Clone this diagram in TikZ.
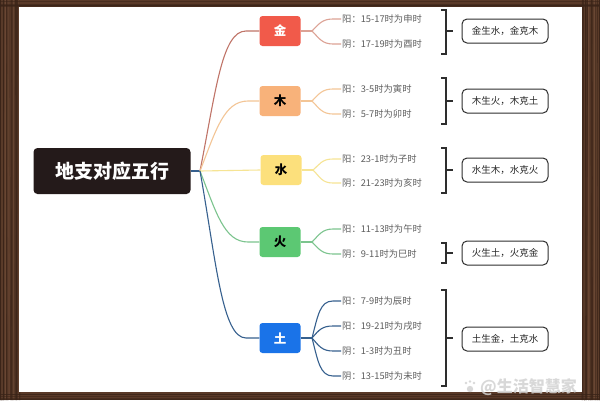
\documentclass[tikz,border=0pt]{standalone}
\usepackage{fontspec}
\setmainfont{Noto Sans CJK SC}
\definecolor{wood}{HTML}{5A3A29}
\definecolor{wooddark}{HTML}{3A2418}
\definecolor{woodlight}{HTML}{75503A}
\definecolor{titlebg}{HTML}{241A1A}
\definecolor{cjin}{HTML}{F15A4A}
\definecolor{cmu}{HTML}{F8B27A}
\definecolor{cshui}{HTML}{FCE07C}
\definecolor{chuo}{HTML}{5CC873}
\definecolor{ctu}{HTML}{1A73E8}
\definecolor{ljin}{HTML}{C07468}
\definecolor{lmu}{HTML}{F3C596}
\definecolor{lshui}{HTML}{F6E494}
\definecolor{lhuo}{HTML}{7CC48E}
\definecolor{ltu}{HTML}{36608E}
\definecolor{sjin}{HTML}{DCA295}
\definecolor{leafgray}{HTML}{5E5E5E}
\definecolor{brkc}{HTML}{2E2E2E}
\tikzset{
  title/.style={fill=titlebg, rounded corners=4pt, text=white, inner sep=0pt,
    minimum width=157pt, minimum height=46pt, font=\bfseries\fontsize{19}{19}\selectfont},
  elem/.style={rounded corners=3pt, inner sep=0pt, minimum width=41pt, minimum height=30pt,
    font=\bfseries\fontsize{12.5}{12.5}\selectfont},
  leaf/.style={anchor=west, inner sep=1pt, text=leafgray, font=\fontsize{9.3}{9.3}\selectfont},
  rel/.style={draw=brkc, line width=1pt, rounded corners=5pt, inner sep=0pt,
    minimum width=86pt, minimum height=24pt, text=black!85, font=\fontsize{9.5}{9.5}\selectfont},
  brk/.style={draw=brkc, line width=1.1pt},
  conn/.style={line width=1.1pt},
  sub/.style={line width=1.1pt},
  wm/.style={text=gray!35, opacity=0.85, font=\bfseries\fontsize{16}{16}\selectfont, inner sep=0pt}
}
\begin{document}
\begin{tikzpicture}[x=1pt,y=-1pt]
\useasboundingbox (0,0) rectangle (600,400);
% wooden frame
\fill[wood] (0,0) rectangle (600,400);
\pgfmathsetseed{7}
\foreach \i in {1,...,40}{
  \pgfmathsetmacro{\xa}{rnd*19}
  \pgfmathsetmacro{\xb}{582+rnd*18}
  \draw[wooddark, line width=0.8pt, opacity=0.55] (\xa,0) -- (\xa+rnd*3-1.5,400);
  \draw[wooddark, line width=0.8pt, opacity=0.55] (\xb,0) -- (\xb+rnd*3-1.5,400);
}
\foreach \i in {1,...,20}{
  \pgfmathsetmacro{\xa}{rnd*19}
  \pgfmathsetmacro{\xb}{582+rnd*18}
  \draw[woodlight, line width=0.6pt, opacity=0.3] (\xa,0) -- (\xa,400);
  \draw[woodlight, line width=0.6pt, opacity=0.3] (\xb,0) -- (\xb,400);
}
\foreach \i in {1,...,6}{
  \pgfmathsetmacro{\ya}{rnd*7}
  \pgfmathsetmacro{\yb}{392+rnd*8}
  \draw[wooddark, line width=0.7pt, opacity=0.55] (0,\ya) -- (600,\ya);
  \draw[wooddark, line width=0.7pt, opacity=0.55] (0,\yb) -- (600,\yb);
}
% paper
\fill[white] (19,7) rectangle (582,392);

% root
\node[title] (root) at (112,171) {地支对应五行};
\coordinate (o) at (200,171);

% elements
\node[elem, fill=cjin, text=white] (jin) at (280,31) {金};
\node[elem, fill=cmu, text=black] (mu) at (280,101) {木};
\node[elem, fill=cshui, text=black] (shui) at (281,170) {水};
\node[elem, fill=chuo, text=black] (huo) at (280,242) {火};
\node[elem, fill=ctu, text=white] (tu) at (280,338) {土};

% main connectors
\draw[conn, ltu] (root.east) -- (o);
\draw[conn, ljin] (o) .. controls (216,90) and (222,31) .. (246,31) -- (jin.west);
\draw[conn, lmu] (o) .. controls (216,130) and (224,101) .. (248,101) -- (mu.west);
\draw[conn, lshui] (o) -- (shui.west);
\draw[conn, lhuo] (o) .. controls (216,212) and (224,242) .. (248,242) -- (huo.west);
\draw[conn, ltu] (o) .. controls (216,260) and (222,338) .. (246,338) -- (tu.west);

% leaves
\node[leaf] (j1) at (341,19) {阳：15-17时为申时};
\node[leaf] (j2) at (341,44) {阴：17-19时为酉时};
\node[leaf] (m1) at (341,89) {阳：3-5时为寅时};
\node[leaf] (m2) at (341,114) {阴：5-7时为卯时};
\node[leaf] (s1) at (341,159) {阳：23-1时为子时};
\node[leaf] (s2) at (341,183) {阴：21-23时为亥时};
\node[leaf] (h1) at (341,229) {阳：11-13时为午时};
\node[leaf] (h2) at (341,254) {阴：9-11时为巳时};
\node[leaf] (t1) at (341,301) {阳：7-9时为辰时};
\node[leaf] (t2) at (341,326) {阳：19-21时为戌时};
\node[leaf] (t3) at (341,351) {阴：1-3时为丑时};
\node[leaf] (t4) at (341,376) {阴：13-15时为未时};

% sub connectors
\coordinate (js) at (312,31);
\draw[sub, sjin] (jin.east) -- (js);
\draw[sub, sjin] (js) .. controls (319,24) and (322,19) .. (333,19) -- (j1.west);
\draw[sub, sjin] (js) .. controls (319,38) and (322,44) .. (333,44) -- (j2.west);
\coordinate (ms) at (312,101);
\draw[sub, lmu] (mu.east) -- (ms);
\draw[sub, lmu] (ms) .. controls (319,94) and (322,89) .. (333,89) -- (m1.west);
\draw[sub, lmu] (ms) .. controls (319,108) and (322,114) .. (333,114) -- (m2.west);
\coordinate (ss) at (313,170);
\draw[sub, lshui] (shui.east) -- (ss);
\draw[sub, lshui] (ss) .. controls (320,164) and (322,159) .. (333,159) -- (s1.west);
\draw[sub, lshui] (ss) .. controls (320,177) and (322,183) .. (333,183) -- (s2.west);
\coordinate (hs) at (312,242);
\draw[sub, lhuo] (huo.east) -- (hs);
\draw[sub, lhuo] (hs) .. controls (319,235) and (322,229) .. (333,229) -- (h1.west);
\draw[sub, lhuo] (hs) .. controls (319,249) and (322,254) .. (333,254) -- (h2.west);
\coordinate (ts) at (312,338);
\draw[sub, ltu] (tu.east) -- (ts);
\draw[sub, ltu] (ts) .. controls (318,315) and (320,301) .. (333,301) -- (t1.west);
\draw[sub, ltu] (ts) .. controls (319,330) and (322,326) .. (333,326) -- (t2.west);
\draw[sub, ltu] (ts) .. controls (319,346) and (322,351) .. (333,351) -- (t3.west);
\draw[sub, ltu] (ts) .. controls (318,361) and (320,376) .. (333,376) -- (t4.west);

% relation boxes
\node[rel] (jr) at (505,31) {金生水，金克木};
\node[rel] (mr) at (505,101) {木生火，木克土};
\node[rel] (sr) at (505,170) {水生木，水克火};
\node[rel] (hr) at (505,253) {火生土，火克金};
\node[rel] (tr) at (505,339) {土生金，土克水};

% brackets
\draw[brk] (441,10) -- (446,10) -- (446,54) -- (441,54);
\draw[brk] (446,31) -- (453,31);
\draw[brk] (441,78) -- (446,78) -- (446,124) -- (441,124);
\draw[brk] (446,101) -- (453,101);
\draw[brk] (441,148) -- (446,148) -- (446,193) -- (441,193);
\draw[brk] (446,170) -- (453,170);
\draw[brk] (441,243) -- (446,243) -- (446,263) -- (441,263);
\draw[brk] (446,253) -- (453,253);
\draw[brk] (441,290) -- (446,290) -- (446,386) -- (441,386);
\draw[brk] (446,338) -- (453,338);

% watermark
\node[wm, anchor=west] (wmk) at (480,387) {@生活智慧家};
\fill[gray!35, opacity=0.85] (470,389) circle (3.2pt);
\fill[gray!35, opacity=0.85] (466,383) circle (1.4pt);
\fill[gray!35, opacity=0.85] (470,381.5) circle (1.4pt);
\fill[gray!35, opacity=0.85] (474,383) circle (1.4pt);
\end{tikzpicture}
\end{document}
